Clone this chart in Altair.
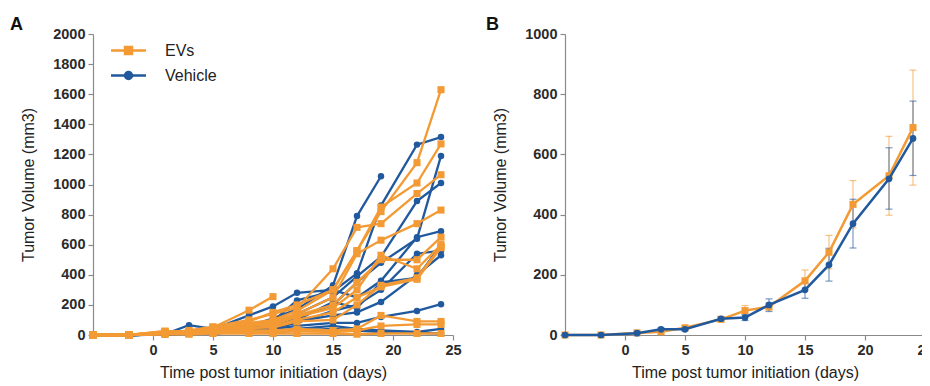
import altair as alt
import pandas as pd

# ---------------- data ----------------
days = [-5, -2, 1, 3, 5, 8, 10, 12, 15, 17, 19, 22, 24]

# Panel A: individual animals (tumor volume, mm3); None = no measurement
vehicle_mice = {
    "V1": [0, 0, 5, 20, 25, 60, 110, 170, 330, 790, 1055, None, None],
    "V2": [0, 0, 8, 30, 30, 70, 90, 230, 290, 410, 860, 1265, 1315],
    "V3": [0, 0, 5, 25, 20, 60, 75, 140, 250, 390, 520, 890, 1010],
    "V4": [0, 0, 4, 20, 20, 50, 60, 120, 200, 350, 480, 640, 1190],
    "V5": [0, 0, 6, 65, 40, 130, 190, 280, 300, 250, 360, 650, 690],
    "V6": [0, 0, 3, 15, 15, 40, 45, 80, 160, 200, 300, 540, 560],
    "V7": [0, 0, 5, 20, 20, 45, 50, 90, 130, 150, 220, 400, 530],
    "V8": [0, 0, 5, 15, 15, 50, 40, 60, 80, 80, 120, 160, 205],
    "V9": [0, 0, 3, 10, 10, 30, 25, 40, 60, 40, 30, 20, 40],
    "V10": [0, 0, 5, 20, 20, 60, 50, 100, 220, 180, 350, 380, 600],
    "V11": [0, 0, 4, 10, 10, 25, 20, 30, 40, 30, 20, 15, 10],
}
ev_mice = {
    "E1": [0, 0, 25, 20, 40, 90, 150, 200, 300, 560, 820, 1145, 1630],
    "E2": [0, 0, 20, 25, 50, 165, 255, None, None, None, None, None, None],
    "E3": [0, 0, 15, 30, 55, 100, 140, 180, 440, 715, 740, 940, 1065],
    "E4": [0, 0, 20, 25, 45, 80, 100, 160, 300, 560, 850, 1010, 1270],
    "E5": [0, 0, 25, 20, 40, 70, 90, 140, 250, 540, 630, 740, 830],
    "E6": [0, 0, 15, 15, 30, 60, 80, 130, 200, 350, 500, 500, 650],
    "E7": [0, 0, 20, 25, 35, 60, 70, 120, 180, 300, 530, 440, 600],
    "E8": [0, 0, 10, 15, 25, 40, 60, 100, 150, 250, 320, 370, 580],
    "E9": [0, 0, 15, 20, 30, 50, 50, 90, 100, 200, 330, 380, 590],
    "E10": [0, 0, 10, 10, 20, 30, 30, 40, 30, 40, 130, 90, 90],
    "E11": [0, 0, 5, 10, 15, 20, 20, 30, 20, 30, 60, 70, 70],
    "E12": [0, 0, 5, 5, 10, 10, 10, 10, 10, 5, 10, 10, 10],
}

# Panel B: group means with SEM bars
ev_mean = [0, 0, 7, 11, 24, 52, 81, 94, 180, 275, 434, 529, 689]
ev_lo = [0, 0, 4, 6, 19, 47, 65, 82, 150, 220, 356, 398, 498]
ev_hi = [0, 0, 10, 16, 29, 57, 98, 106, 216, 331, 513, 660, 880]
veh_mean = [0, 0, 6, 19, 19, 54, 58, 100, 150, 233, 370, 519, 653]
veh_lo = [0, 0, 3, 14, 14, 48, 48, 78, 122, 179, 289, 418, 530]
veh_hi = [0, 0, 9, 24, 24, 60, 68, 120, 172, 288, 451, 622, 777]

groups = ["EVs", "Vehicle"]
colors = ["#F39A34", "#21599E"]
shapes_pt = ["square", "circle"]
legend_paths = [
    "M-2.5,0H2.5M-0.5,-0.5H0.5V0.5H-0.5Z",
    "M-2.5,0H2.5M0.5,0A0.5,0.5,0,1,1,-0.5,0A0.5,0.5,0,1,1,0.5,0Z",
]

# ---------------- tables ----------------
rows = []
for grp, mice in (("Vehicle", vehicle_mice), ("EVs", ev_mice)):
    for mid, vals in mice.items():
        for d, v in zip(days, vals):
            if v is not None:
                rows.append({"group": grp, "mouse": mid, "day": d, "vol": v})
df_a = pd.DataFrame(rows)

rows = []
for grp, m, lo, hi in (("EVs", ev_mean, ev_lo, ev_hi), ("Vehicle", veh_mean, veh_lo, veh_hi)):
    for d, a, b, c in zip(days, m, lo, hi):
        rows.append({"group": grp, "day": d, "vol": a, "lo": b, "hi": c})
df_b = pd.DataFrame(rows)

FONT = "Liberation Sans"
x_enc = alt.X("day:Q", scale=alt.Scale(domain=[-5, 25], nice=False),
              axis=alt.Axis(values=[0, 5, 10, 15, 20, 25], format="d", titlePadding=8,
                            title="Time post tumor initiation (days)"))


def y_enc(field, ymax):
    return alt.Y(f"{field}:Q", scale=alt.Scale(domain=[0, ymax], nice=False),
                 axis=alt.Axis(values=list(range(0, ymax + 1, 200)), format="d", titlePadding=16,
                               title="Tumor Volume (mm3)"))


def make_legend():
    return alt.Legend(title=None, orient="none", legendX=27, legendY=8,
                      symbolSize=196, symbolStrokeWidth=2.5, symbolOpacity=1,
                      labelOffset=28, rowPadding=8, padding=0,
                      labelFontSize=16, labelFont=FONT, labelColor="#222")


def legend_layer(df, ymax):
    return alt.Chart(df).mark_point(filled=True, strokeWidth=2.5).encode(
        x=x_enc, y=y_enc("vol", ymax),
        opacity=alt.value(0),
        color=alt.Color("group:N", scale=alt.Scale(domain=groups, range=colors), legend=make_legend()),
        stroke=alt.Stroke("group:N", scale=alt.Scale(domain=groups, range=colors), legend=make_legend()),
        shape=alt.Shape("group:N", scale=alt.Scale(domain=groups, range=legend_paths), legend=make_legend()),
    )


# ---------------- panel A ----------------
layers_a = []
for grp in ["Vehicle", "EVs"]:
    i = groups.index(grp)
    sub = df_a[df_a["group"] == grp]
    base = alt.Chart(sub)
    layers_a.append(base.mark_line(strokeWidth=2.3, color=colors[i]).encode(
        x=x_enc, y=y_enc("vol", 2000), detail="mouse:N", order="day:Q"))
    layers_a.append(base.mark_point(filled=True, opacity=1, size=50 if grp == "EVs" else 42,
                                    shape=shapes_pt[i], color=colors[i]).encode(
        x=x_enc, y=y_enc("vol", 2000)))
layers_a.append(legend_layer(df_b, 2000))

panel_a = alt.layer(*layers_a).properties(
    width=360, height=301,
    title=alt.TitleParams("A", anchor="start", frame="group", dx=-83, fontSize=18,
                          fontWeight="bold", font=FONT, color="#111", offset=-8))

# ---------------- panel B ----------------
layers_b = []
for grp in ["EVs", "Vehicle"]:
    i = groups.index(grp)
    base = alt.Chart(df_b[df_b["group"] == grp])
    layers_b.append(base.mark_rule(color=colors[i], opacity=0.6, strokeWidth=1.2).encode(
        x=x_enc, y=y_enc("lo", 1000), y2="hi:Q"))
    layers_b.append(base.mark_tick(color=colors[i], opacity=0.6, orient="horizontal",
                                   size=7, thickness=1.2).encode(x=x_enc, y=y_enc("lo", 1000)))
    layers_b.append(base.mark_tick(color=colors[i], opacity=0.6, orient="horizontal",
                                   size=7, thickness=1.2).encode(x=x_enc, y=y_enc("hi", 1000)))
for grp in ["EVs", "Vehicle"]:
    i = groups.index(grp)
    base = alt.Chart(df_b[df_b["group"] == grp])
    layers_b.append(base.mark_line(strokeWidth=2.5, color=colors[i]).encode(
        x=x_enc, y=y_enc("vol", 1000), order="day:Q"))
    layers_b.append(base.mark_point(filled=True, opacity=1, size=50 if grp == "EVs" else 45,
                                    shape=shapes_pt[i], color=colors[i]).encode(
        x=x_enc, y=y_enc("vol", 1000)))
layers_b.append(legend_layer(df_b, 1000))

panel_b = alt.layer(*layers_b).properties(
    width=360, height=301,
    title=alt.TitleParams("B", anchor="start", frame="group", dx=-79, fontSize=18,
                          fontWeight="bold", font=FONT, color="#111", offset=-8))

chart = alt.hconcat(panel_a, panel_b, spacing=24).properties(
    padding={"left": 2, "top": 8, "right": -12, "bottom": 0}
).configure_view(stroke=None).configure_axis(
    grid=False, labelFlush=False,
    labelFont=FONT, labelFontSize=14.5, labelFontWeight="bold", labelColor="#2b2b2b",
    titleFont=FONT, titleFontSize=16, titleFontWeight="normal", titleColor="#222",
    domainColor="#8a8a8a", tickColor="#8a8a8a", tickSize=5, domainWidth=1.2, tickWidth=1.2,
    labelPadding=3,
)

chart.save("out.html", embed_options={"renderer": "svg", "actions": False})
